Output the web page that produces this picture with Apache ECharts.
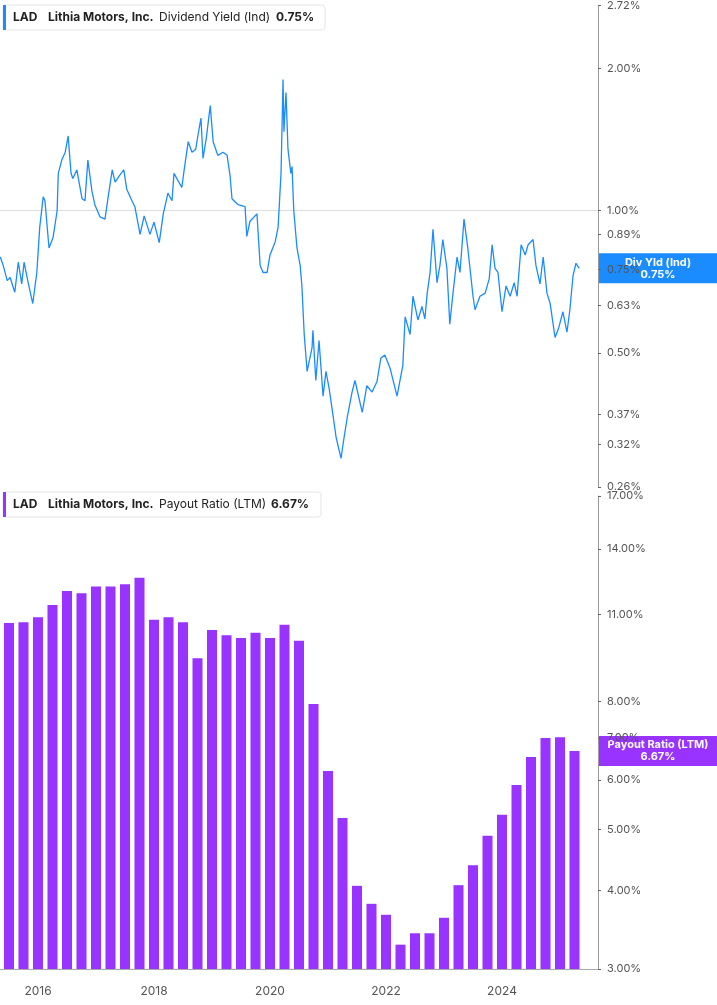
<!DOCTYPE html>
<html><head><meta charset="utf-8">
<script src="https://cdn.jsdelivr.net/npm/echarts@6/dist/echarts.min.js"></script>
<style>html,body{margin:0;padding:0;background:#fff}#c{width:717px;height:1005px}</style>
</head><body><div id="c"></div>
<script>
const yieldYears=[2015.35,2015.40,2015.47,2015.52,2015.60,2015.66,2015.72,2015.76,2015.83,2015.91,2015.98,2016.03,2016.09,2016.12,2016.19,2016.26,2016.33,2016.35,2016.41,2016.47,2016.52,2016.57,2016.60,2016.67,2016.76,2016.81,2016.86,2016.93,2016.98,2017.07,2017.155,2017.21,2017.28,2017.33,2017.41,2017.48,2017.53,2017.62,2017.67,2017.76,2017.83,2017.93,2018.00,2018.09,2018.16,2018.24,2018.31,2018.345,2018.48,2018.52,2018.59,2018.655,2018.72,2018.76,2018.81,2018.845,2018.90,2018.97,2019.02,2019.10,2019.19,2019.26,2019.31,2019.345,2019.45,2019.57,2019.60,2019.655,2019.775,2019.83,2019.88,2019.95,2020.00,2020.09,2020.14,2020.19,2020.225,2020.24,2020.276,2020.31,2020.36,2020.38,2020.41,2020.465,2020.52,2020.55,2020.59,2020.64,2020.725,2020.74,2020.79,2020.845,2020.915,2020.965,2021.02,2021.09,2021.14,2021.225,2021.26,2021.33,2021.415,2021.465,2021.59,2021.67,2021.76,2021.845,2021.91,2021.98,2022.07,2022.19,2022.29,2022.33,2022.415,2022.465,2022.55,2022.62,2022.67,2022.71,2022.76,2022.81,2022.88,2022.93,2022.98,2023.05,2023.10,2023.155,2023.225,2023.275,2023.345,2023.41,2023.50,2023.535,2023.62,2023.71,2023.78,2023.83,2023.88,2023.93,2024.00,2024.07,2024.14,2024.21,2024.26,2024.33,2024.40,2024.45,2024.535,2024.585,2024.655,2024.71,2024.775,2024.83,2024.915,2024.98,2025.05,2025.12,2025.17,2025.225,2025.275,2025.33];
const yieldValues=[0.798,0.766,0.711,0.722,0.672,0.778,0.70,0.778,0.704,0.636,0.74,0.923,1.07,1.05,0.834,0.878,1.00,1.20,1.28,1.33,1.44,1.20,1.17,1.22,1.06,1.05,1.28,1.10,1.03,0.97,0.96,1.07,1.22,1.15,1.19,1.22,1.11,1.05,1.02,0.891,0.975,0.891,0.946,0.856,0.985,1.09,1.05,1.20,1.12,1.22,1.40,1.33,1.35,1.45,1.57,1.29,1.42,1.67,1.40,1.31,1.33,1.31,1.19,1.06,1.03,1.02,0.882,0.95,0.985,0.766,0.74,0.74,0.806,0.86,0.923,1.20,1.895,1.47,1.78,1.35,1.20,1.24,1.00,0.834,0.766,0.693,0.547,0.457,0.513,0.558,0.437,0.531,0.405,0.457,0.420,0.366,0.331,0.299,0.321,0.364,0.413,0.437,0.374,0.426,0.413,0.435,0.487,0.495,0.464,0.405,0.470,0.596,0.547,0.659,0.587,0.627,0.590,0.669,0.74,0.913,0.704,0.766,0.869,0.755,0.575,0.669,0.798,0.74,0.96,0.834,0.659,0.617,0.659,0.669,0.718,0.847,0.755,0.74,0.611,0.693,0.659,0.704,0.659,0.847,0.806,0.847,0.869,0.766,0.70,0.798,0.669,0.636,0.539,0.566,0.611,0.553,0.617,0.729,0.774,0.755];
const payoutQuarters=[2015.50,2015.75,2016.00,2016.25,2016.50,2016.75,2017.00,2017.25,2017.50,2017.75,2018.00,2018.25,2018.50,2018.75,2019.00,2019.25,2019.50,2019.75,2020.00,2020.25,2020.50,2020.75,2021.00,2021.25,2021.50,2021.75,2022.00,2022.25,2022.50,2022.75,2023.00,2023.25,2023.50,2023.75,2024.00,2024.25,2024.50,2024.75,2025.00,2025.25];
const payoutValues=[10.67,10.7,10.9,11.4,12.0,11.9,12.2,12.2,12.3,12.6,10.8,10.9,10.7,9.38,10.4,10.2,10.1,10.3,10.1,10.6,10.0,7.93,6.2,5.22,4.07,3.81,3.66,3.28,3.42,3.42,3.62,4.08,4.39,4.89,5.28,5.89,6.53,7.0,7.02,6.67];
const yieldTicks=[0.26,0.32,0.37,0.50,0.63,0.75,0.89,1.00,2.00,2.72];
const payoutTicks=[3,4,5,6,7,8,11,14,17];
const yearTicks=[2016,2018,2020,2022,2024];

const L=Math.log;
const chart=echarts.init(document.getElementById('c'));
const font='Inter, "Noto Sans", sans-serif';
const xBase={type:'value',min:2015.345,max:2025.655,splitLine:{show:false},axisTick:{show:false}};
const yBase=(ticks,min,max,grid)=>({type:'value',position:'right',gridIndex:grid,min:L(min),max:L(max),
  splitLine:{show:false},axisLine:{show:true,lineStyle:{color:'#999'}},
  axisTick:{show:true,length:3,customValues:ticks.map(L),lineStyle:{color:'#666'}},
  axisLabel:{customValues:ticks.map(L),color:'#555',fontSize:11,fontFamily:font,margin:9,
    formatter:v=>Math.exp(v).toFixed(2)+'%'}});
chart.setOption({
  animation:false,
  grid:[{left:0,right:119,top:0,height:487},{left:0,right:119,top:496,height:473}],
  xAxis:[Object.assign({gridIndex:0,axisLine:{lineStyle:{color:'#ddd'}},axisLabel:{show:false}},xBase),
         Object.assign({gridIndex:1,axisLine:{lineStyle:{color:'#aaa'}},
           axisLabel:{customValues:yearTicks,color:'#555',fontSize:12,fontFamily:font,margin:16,formatter:v=>String(Math.round(v))}},xBase)],
  yAxis:[yBase(yieldTicks,0.26,2.72,0),yBase(payoutTicks,3,17,1)],
  series:[
    {type:'line',xAxisIndex:0,yAxisIndex:0,showSymbol:false,data:yieldYears.map((x,i)=>[x,L(yieldValues[i])]),
     lineStyle:{color:'#1a8cff',width:1.3},itemStyle:{color:'#1a8cff'}},
    {type:'bar',xAxisIndex:1,yAxisIndex:1,barWidth:10,data:payoutQuarters.map((x,i)=>[x,L(payoutValues[i])]),
     itemStyle:{color:'#9933ff'}}
  ]
});
const yTag=chart.convertToPixel({yAxisIndex:0},L(yieldValues[yieldValues.length-1]))||273;
const pTag=chart.convertToPixel({yAxisIndex:1},L(payoutValues[payoutValues.length-1]))||751;
function header(y,w,color,parts){
  const kids=[{type:'rect',shape:{x:3,y:y,width:w,height:25,r:3},style:{fill:'#fff',stroke:'#e6e6e6'}},
              {type:'rect',shape:{x:3,y:y,width:3,height:25},style:{fill:color}}];
  let x=13;
  parts.forEach(p=>{kids.push({type:'text',x:x,y:y+12.5,style:{text:p[0],font:(p[1]?'bold ':'')+'12px '+font,fill:'#222',textVerticalAlign:'middle'}});x+=p[2];});
  return kids;
}
function tag(y,color,t1,t2){
  return [{type:'rect',shape:{x:598,y:y-15,width:119,height:30},style:{fill:color}},
    {type:'text',x:658,y:y,style:{text:t1+'\n'+t2,font:'bold 11px '+font,fill:'#fff',align:'center',verticalAlign:'middle',lineHeight:12}}];
}
chart.setOption({graphic:[].concat(
  header(5,322,'#1a8cff',[['LAD',1,35],['Lithia Motors, Inc.',1,111],['Dividend Yield (Ind)',0,117],['0.75%',1,50]]),
  header(492,318,'#9933ff',[['LAD',1,35],['Lithia Motors, Inc.',1,111],['Payout Ratio (LTM)',0,112],['6.67%',1,50]]),
  tag(yTag,'#1a8cff','Div Yld (Ind)','0.75%'),
  tag(pTag,'#9933ff','Payout Ratio (LTM)','6.67%'))});
</script></body></html>
